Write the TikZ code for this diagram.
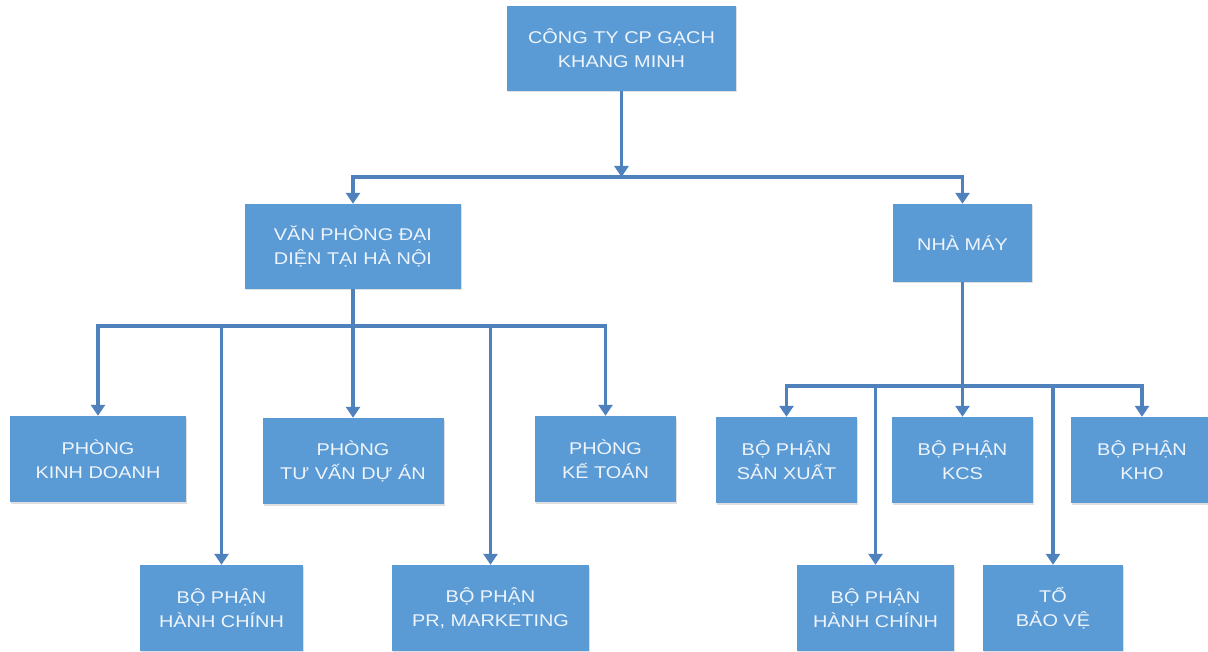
\documentclass[tikz,border=0pt]{standalone}
\usepackage{fontspec}
\setmainfont{Liberation Sans}[FakeStretch=1.17]
\usetikzlibrary{arrows.meta,shadows}
\definecolor{boxblue}{HTML}{5B9BD5}
\definecolor{lineblue}{HTML}{4F81BD}
\definecolor{boxtext}{HTML}{EEF4FB}
\tikzset{
  box/.style={fill=boxblue, text=boxtext, align=center, inner sep=2pt,
    minimum height=86pt, font=\fontsize{17}{24}\selectfont,
    drop shadow={shadow xshift=1pt, shadow yshift=-1.5pt, opacity=0.25}},
  link/.style={draw=lineblue, line width=3.2pt},
  arr/.style={link, -{Triangle[width=14pt,length=11pt]}}
}
\begin{document}
\begin{tikzpicture}[x=1pt, y=-1pt]
  \useasboundingbox (0,0) rectangle (1208,652);
  % top level
  \node[box, minimum width=229pt, minimum height=85pt] (cty) at (621.5,48.5) {CÔNG TY CP GẠCH\\KHANG MINH};
  % second level
  \node[box, minimum width=216pt, minimum height=85pt] (vp) at (353,246.5) {VĂN PHÒNG ĐẠI\\DIỆN TẠI HÀ NỘI};
  \node[box, minimum width=139pt, minimum height=78pt] (nm) at (962.5,243) {NHÀ MÁY};
  % under the office
  \node[box, minimum width=176pt] (kd) at (98,459) {PHÒNG\\KINH DOANH};
  \node[box, minimum width=181pt] (tv) at (353,461) {PHÒNG\\TƯ VẤN DỰ ÁN};
  \node[box, minimum width=141pt] (kt) at (605.5,459) {PHÒNG\\KẾ TOÁN};
  \node[box, minimum width=163pt] (hca) at (221.5,608) {BỘ PHẬN\\HÀNH CHÍNH};
  \node[box, minimum width=197pt] (pr) at (490.5,608) {BỘ PHẬN\\PR, MARKETING};
  % under the factory
  \node[box, minimum width=141pt] (sx) at (786.5,460) {BỘ PHẬN\\SẢN XUẤT};
  \node[box, minimum width=141pt] (kcs) at (962.5,460) {BỘ PHẬN\\KCS};
  \node[box, minimum width=142pt] (kho) at (1142,460) {BỘ PHẬN\\KHO};
  \node[box, minimum width=157pt] (hcb) at (875.5,608) {BỘ PHẬN\\HÀNH CHÍNH};
  \node[box, minimum width=140pt] (bv) at (1053,608) {TỔ\\BẢO VỆ};

  % junctions
  \coordinate (j1) at (621.5,177);
  \coordinate (j2) at (353,326);
  \coordinate (j3) at (962.5,386);

  \draw[arr] (cty.south) -- (j1);
  \draw[arr] (j1) -| (vp.north);
  \draw[arr] (j1) -| (nm.north);

  \draw[arr] (vp.south) -- (tv.north);
  \draw[arr] (j2) -| (kd.north);
  \draw[arr] (j2) -| (hca.north);
  \draw[arr] (j2) -| (pr.north);
  \draw[arr] (j2) -| (kt.north);

  \draw[arr] (nm.south) -- (kcs.north);
  \draw[arr] (j3) -| (sx.north);
  \draw[arr] (j3) -| (hcb.north);
  \draw[arr] (j3) -| (bv.north);
  \draw[arr] (j3) -| (kho.north);
\end{tikzpicture}
\end{document}
